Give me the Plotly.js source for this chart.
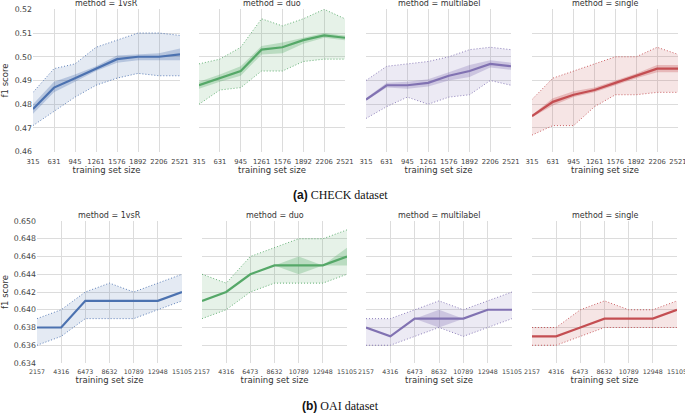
<!DOCTYPE html>
<html><head><meta charset="utf-8">
<script src="https://cdn.plot.ly/plotly-3.0.1.min.js"></script>
<style>html,body{margin:0;padding:0;background:#fff}#chart{width:685px;height:413px}</style>
</head><body><div id="chart"></div>
<script>
const methods = ['1vsR', 'duo', 'multilabel', 'single'];
const colors = ['76,114,176', '85,168,104', '129,114,178', '196,78,82'];

const checkSizes = ['315', '631', '945', '1261', '1576', '1892', '2206', '2521'];
const checkMean = [
  [0.478, 0.487, 0.491, 0.495, 0.499, 0.500, 0.500, 0.501],
  [0.488, 0.491, 0.494, 0.503, 0.504, 0.507, 0.509, 0.508],
  [0.482, 0.488, 0.488, 0.489, 0.492, 0.494, 0.497, 0.496],
  [0.475, 0.481, 0.484, 0.486, 0.489, 0.492, 0.495, 0.495]
];
const checkCiLo = [
  [0.476, 0.485, 0.4895, 0.494, 0.4975, 0.4985, 0.4985, 0.4985],
  [0.4865, 0.4895, 0.492, 0.501, 0.5015, 0.5055, 0.508, 0.507],
  [0.4815, 0.487, 0.4865, 0.4875, 0.490, 0.4915, 0.4955, 0.4945],
  [0.4745, 0.4795, 0.483, 0.485, 0.488, 0.491, 0.4935, 0.4935]
];
const checkCiHi = [
  [0.480, 0.4895, 0.4925, 0.496, 0.5005, 0.501, 0.5015, 0.5035],
  [0.4895, 0.4925, 0.496, 0.5045, 0.506, 0.508, 0.510, 0.509],
  [0.4825, 0.489, 0.4895, 0.4905, 0.4935, 0.4965, 0.4985, 0.4975],
  [0.4755, 0.4825, 0.4855, 0.487, 0.490, 0.493, 0.4965, 0.4965]
];
const checkMinLo = [
  [0.471, 0.477, 0.483, 0.488, 0.491, 0.493, 0.492, 0.492],
  [0.480, 0.486, 0.487, 0.494, 0.494, 0.498, 0.499, 0.499],
  [0.474, 0.479, 0.483, 0.480, 0.483, 0.484, 0.490, 0.488],
  [0.467, 0.471, 0.471, 0.479, 0.484, 0.484, 0.485, 0.485]
];
const checkMaxHi = [
  [0.485, 0.495, 0.497, 0.504, 0.507, 0.510, 0.510, 0.509],
  [0.497, 0.499, 0.504, 0.516, 0.513, 0.516, 0.520, 0.516],
  [0.490, 0.496, 0.497, 0.498, 0.500, 0.503, 0.504, 0.503],
  [0.482, 0.491, 0.494, 0.497, 0.500, 0.500, 0.504, 0.501]
];

const oaiSizes = ['2157', '4316', '6473', '8632', '10789', '12948', '15105'];
const oaiMean = [
  [0.638, 0.638, 0.641, 0.641, 0.641, 0.641, 0.642],
  [0.641, 0.642, 0.644, 0.645, 0.645, 0.645, 0.646],
  [0.638, 0.637, 0.639, 0.639, 0.639, 0.640, 0.640],
  [0.637, 0.637, 0.638, 0.639, 0.639, 0.639, 0.640]
];
const oaiCiLo = [
  [0.638, 0.638, 0.641, 0.641, 0.641, 0.641, 0.642],
  [0.641, 0.642, 0.644, 0.645, 0.644, 0.645, 0.645],
  [0.638, 0.637, 0.639, 0.638, 0.639, 0.640, 0.640],
  [0.637, 0.637, 0.638, 0.639, 0.639, 0.639, 0.640]
];
const oaiCiHi = [
  [0.638, 0.638, 0.641, 0.641, 0.641, 0.641, 0.642],
  [0.641, 0.642, 0.644, 0.645, 0.646, 0.645, 0.647],
  [0.638, 0.637, 0.639, 0.640, 0.639, 0.640, 0.640],
  [0.637, 0.637, 0.638, 0.639, 0.639, 0.639, 0.640]
];
const oaiMinLo = [
  [0.636, 0.637, 0.639, 0.639, 0.639, 0.640, 0.641],
  [0.639, 0.640, 0.642, 0.643, 0.643, 0.643, 0.644],
  [0.636, 0.636, 0.637, 0.638, 0.637, 0.638, 0.639],
  [0.636, 0.636, 0.637, 0.638, 0.638, 0.638, 0.638]
];
const oaiMaxHi = [
  [0.639, 0.640, 0.642, 0.643, 0.642, 0.643, 0.644],
  [0.644, 0.643, 0.646, 0.647, 0.648, 0.648, 0.649],
  [0.639, 0.639, 0.640, 0.641, 0.640, 0.641, 0.642],
  [0.638, 0.638, 0.640, 0.641, 0.640, 0.640, 0.641]
];

const W = 685, H = 413;
const topX = [[33, 180], [199, 345], [366, 511], [532, 678]];
const botX = [[37, 182], [202, 347], [366, 512], [532, 677]];
const topY = [9.3, 151.7];
const botY = [221, 363];

const traces = [];
const layout = {
  width: W, height: H, margin: {l: 0, r: 0, t: 0, b: 0},
  paper_bgcolor: '#fff', plot_bgcolor: '#fff', showlegend: false,
  font: {family: 'DejaVu Sans', color: '#333'},
  annotations: []
};

function addRow(rowIdx, sizes, mean, ciLo, ciHi, minLo, maxHi, xs, ys, yrange, ytick, xfont) {
  for (let m = 0; m < 4; m++) {
    const n = rowIdx * 4 + m + 1;
    const xa = 'x' + n, ya = 'y' + n;
    const c = colors[m];
    const solid = 'rgb(' + c + ')';
    traces.push({x: sizes, y: minLo[m], xaxis: xa, yaxis: ya, mode: 'lines', type: 'scatter',
      line: {color: solid, width: 0.9, dash: '1px,2px'}, hoverinfo: 'skip'});
    traces.push({x: sizes, y: maxHi[m], xaxis: xa, yaxis: ya, mode: 'lines', type: 'scatter',
      fill: 'tonexty', fillcolor: 'rgba(' + c + ',0.15)',
      line: {color: solid, width: 0.9, dash: '1px,2px'}, hoverinfo: 'skip'});
    traces.push({x: sizes, y: ciLo[m], xaxis: xa, yaxis: ya, mode: 'lines', type: 'scatter',
      line: {width: 0, color: 'rgba(0,0,0,0)'}, hoverinfo: 'skip'});
    traces.push({x: sizes, y: ciHi[m], xaxis: xa, yaxis: ya, mode: 'lines', type: 'scatter',
      fill: 'tonexty', fillcolor: 'rgba(' + c + ',0.3)',
      line: {width: 0, color: 'rgba(0,0,0,0)'}, hoverinfo: 'skip'});
    traces.push({x: sizes, y: mean[m], xaxis: xa, yaxis: ya, mode: 'lines', type: 'scatter',
      line: {color: solid, width: 2.2}});

    const key = n === 1 ? '' : String(n);
    layout['xaxis' + key] = {
      domain: [xs[m][0] / W, xs[m][1] / W], anchor: ya, type: 'category',
      range: [0, sizes.length - 1], showgrid: true, gridcolor: '#dcdcdc', gridwidth: 1,
      zeroline: false, showline: false, ticks: '', tickangle: 0, automargin: false,
      ticklabelstandoff: 4,
      tickfont: {size: xfont, color: '#444'},
      title: {text: 'training set size', font: {size: 8.5, color: '#333'}, standoff: 2}
    };
    layout['yaxis' + key] = {
      domain: [1 - ys[1] / H, 1 - ys[0] / H], anchor: xa, range: yrange,
      tickmode: 'linear', tick0: yrange[0], dtick: ytick,
      showgrid: true, gridcolor: '#dcdcdc', gridwidth: 1,
      zeroline: false, showline: false, ticks: '', automargin: false,
      showticklabels: m === 0, tickfont: {size: 7.8, color: '#444'},
      tickformat: rowIdx === 0 ? '.2f' : '.3f',
      title: m === 0 ? {text: 'f1 score', font: {size: 8.5, color: '#333'}, standoff: 5} : {text: ''}
    };
    layout.annotations.push({
      text: 'method = ' + methods[m], xref: 'paper', yref: 'paper',
      x: (xs[m][0] + xs[m][1]) / 2 / W, y: 1 - (ys[0] - 5.5) / H,
      xanchor: 'center', yanchor: 'middle', showarrow: false,
      font: {size: 8, color: '#333'}
    });
  }
}

addRow(0, checkSizes, checkMean, checkCiLo, checkCiHi, checkMinLo, checkMaxHi, topX, topY, [0.46, 0.52], 0.01, 6.8);
addRow(1, oaiSizes, oaiMean, oaiCiLo, oaiCiHi, oaiMinLo, oaiMaxHi, botX, botY, [0.634, 0.650], 0.002, 6.3);

layout.annotations.push({
  text: '<span style="font-family:Liberation Sans"><b>(a)</b></span> CHECK dataset',
  xref: 'paper', yref: 'paper', x: 340 / W, y: 1 - 195 / H, xanchor: 'center', yanchor: 'middle',
  showarrow: false, font: {family: 'Liberation Serif', size: 12, color: '#111'}
});
layout.annotations.push({
  text: '<span style="font-family:Liberation Sans"><b>(b)</b></span> OAI dataset',
  xref: 'paper', yref: 'paper', x: 340 / W, y: 1 - 406 / H, xanchor: 'center', yanchor: 'middle',
  showarrow: false, font: {family: 'Liberation Serif', size: 12, color: '#111'}
});

Plotly.newPlot('chart', traces, layout, {displayModeBar: false, staticPlot: true});
</script></body></html>
